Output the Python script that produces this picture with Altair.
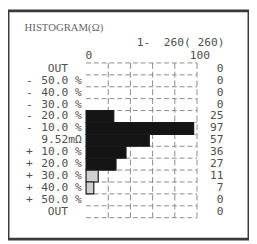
import altair as alt
import pandas as pd

# ---- data ----
signs = ["", "-", "-", "-", "-", "-", "", "+", "+", "+", "+", "+", ""]
levels = ["OUT", "50.0 %", "40.0 %", "30.0 %", "20.0 %", "10.0 %", "9.52mΩ",
          "10.0 %", "20.0 %", "30.0 %", "40.0 %", "50.0 %", "OUT"]
counts = [0, 0, 0, 0, 25, 97, 57, 36, 27, 11, 7, 0, 0]
title_text = "HISTOGRAM(Ω)"
range_text = "1-\u00a0\u00a0260(\u00a0260)"
scale_ticks = [0, 100]
scale_labels = ["0", "100"]
grid_counts = [20, 40, 60, 80, 100]

df = pd.DataFrame({"row": list(range(len(levels))), "sign": signs,
                   "level": levels, "count": counts})
n = len(levels)
bounds = pd.DataFrame({"b": [i - 0.5 for i in range(n + 1)]})
vgrid = pd.DataFrame({"g": grid_counts})
ticks = pd.DataFrame({"v": scale_ticks, "t": scale_labels})

W, H = 247, 234
xs = alt.Scale(domain=[0, 100], range=[80, 193.7])
ys = alt.Scale(domain=[0, n - 1], range=[59.5, 205.9])

MONO = "DejaVu Sans Mono"
FS = 11.5
TXT = "#505050"
LINE = "#8a8a8a"

hgrid = alt.Chart(bounds).transform_calculate(x0="0", x1="100").mark_rule(
    color=LINE, strokeWidth=1, strokeDash=[5, 3]
).encode(
    x=alt.X("x0:Q", scale=xs, axis=None), x2="x1:Q",
    y=alt.Y("b:Q", scale=ys, axis=None)
)

vlines = alt.Chart(vgrid).transform_calculate(
    y0=str(-0.5), y1=str(n - 0.5)
).mark_rule(color=LINE, strokeWidth=1, strokeDash=[6, 3]).encode(
    x=alt.X("g:Q", scale=xs, axis=None),
    y=alt.Y("y0:Q", scale=ys, axis=None), y2="y1:Q"
)

bars = alt.Chart(df).transform_filter("datum.count > 0").transform_calculate(
    x0="0", y0="datum.row - 0.5", y1="datum.row + 0.5"
).mark_rect(stroke="#1a1a1a", strokeWidth=1.2).encode(
    x=alt.X("x0:Q", scale=xs, axis=None), x2="count:Q",
    y=alt.Y("y0:Q", scale=ys, axis=None), y2="y1:Q",
    fill=alt.condition("datum.count < 20", alt.value("#d0d0d0"), alt.value("#141414"))
)

sign_t = alt.Chart(df).mark_text(font=MONO, fontSize=FS, color=TXT, align="center",
                                 baseline="middle").encode(
    x=alt.value(22), y=alt.Y("row:Q", scale=ys, axis=None), text="sign:N")

lvl_t = alt.Chart(df).transform_filter("datum.level != 'OUT'").mark_text(
    font=MONO, fontSize=FS, color=TXT, align="left", baseline="middle").encode(
    x=alt.value(34), y=alt.Y("row:Q", scale=ys, axis=None), text="level:N")

out_t = alt.Chart(df).transform_filter("datum.level == 'OUT'").mark_text(
    font=MONO, fontSize=FS, color=TXT, align="center", baseline="middle").encode(
    x=alt.value(51), y=alt.Y("row:Q", scale=ys, axis=None), text="level:N")

cnt_t = alt.Chart(df).mark_text(font=MONO, fontSize=FS, color=TXT, align="right",
                                baseline="middle").encode(
    x=alt.value(221), y=alt.Y("row:Q", scale=ys, axis=None), text="count:Q")

tick_t = alt.Chart(ticks).mark_text(font=MONO, fontSize=FS, color=TXT, align="center",
                                    baseline="middle", dx=3).encode(
    x=alt.X("v:Q", scale=xs, axis=None), y=alt.value(46.5), text="t:N")

title_t = alt.Chart(pd.DataFrame({"t": [title_text]})).mark_text(
    font="Liberation Sans Narrow", fontSize=11, color="#666666", align="left",
    baseline="middle").encode(x=alt.value(17), y=alt.value(18), text="t:N")

range_t = alt.Chart(pd.DataFrame({"t": [range_text]})).mark_text(
    font=MONO, fontSize=FS, color=TXT, align="right", baseline="middle").encode(
    x=alt.value(222), y=alt.value(33.5), text="t:N")

chart = alt.layer(hgrid, vlines, bars, sign_t, lvl_t, out_t, cnt_t, tick_t,
                  title_t, range_t).properties(
    width=W, height=H, autosize="none", padding=0
).configure_view(stroke="#3a3a3a", strokeWidth=3)

chart.save("out.html", embed_options={"renderer": "svg", "actions": False})
